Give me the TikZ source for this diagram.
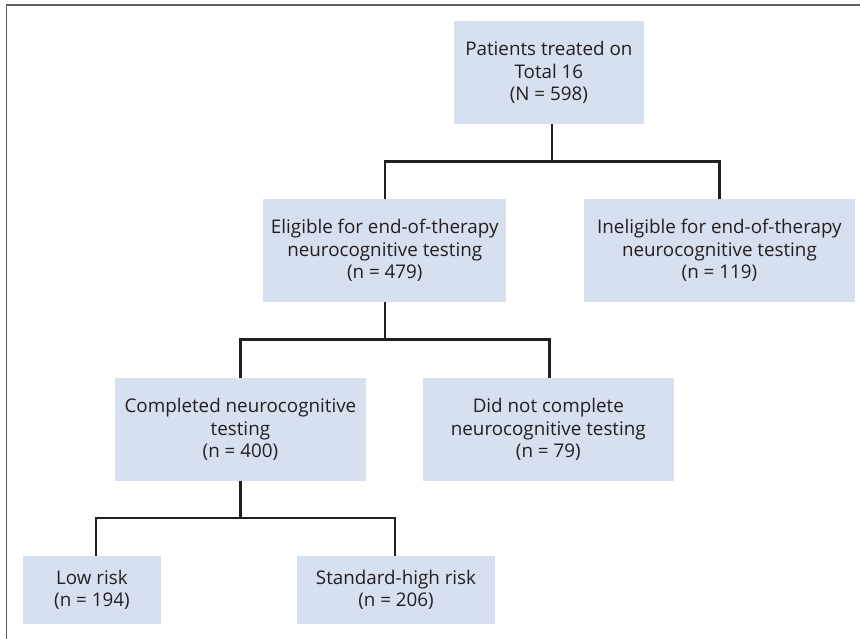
\documentclass[tikz,border=0pt]{standalone}
\usepackage{fontspec}
\setmainfont{Open Sans}
\usetikzlibrary{positioning}
\definecolor{boxblue}{RGB}{214,224,238}
\definecolor{inkgray}{RGB}{35,31,32}
\definecolor{framegray}{RGB}{95,95,95}

\begin{document}
\begin{tikzpicture}[x=1pt, y=-1pt,
    stage/.style={fill=boxblue, align=center, inner sep=0pt, minimum height=102.7pt,
                  text=inkgray, font=\fontsize{18.8}{22.6}\selectfont},
    group/.style={stage, minimum height=68pt},
    link/.style={draw=inkgray, line width=2.3pt}]

    \useasboundingbox (0,0) rectangle (860,638);
    \draw[framegray, line width=1.3pt] (6.7,645) -- (6.7,5) -- (865,5);

    \node[stage, minimum width=189.7pt] (total) at (548.9,72.4)
        {Patients treated on\\Total 16\\(N = 598)};

    \node[stage, minimum width=243pt] (eligible) at (384.75,250.35)
        {Eligible for end-of-therapy\\neurocognitive testing\\(n = 479)};
    \node[stage, minimum width=271pt] (ineligible) at (719.4,250.35)
        {Ineligible for end-of-therapy\\neurocognitive testing\\(n = 119)};

    \node[stage, minimum width=250.7pt] (completed) at (240.4,429.35)
        {Completed neurocognitive\\testing\\(n = 400)};
    \node[stage, minimum width=250.6pt] (incomplete) at (548.3,429.35)
        {Did not complete\\neurocognitive testing\\(n = 79)};

    \node[group, minimum width=137.7pt] (lowrisk) at (91.9,590)
        {Low risk\\(n = 194)};
    \node[group, minimum width=198pt] (highrisk) at (396,590)
        {Standard-high risk\\(n = 206)};

    % forks
    \draw[link] ([xshift=3.4pt]total.south) -- ++(0,38);
    \draw[link] (eligible.north) -- ++(0,-37.3) -| (ineligible.north);

    \draw[link] (eligible.south) -- ++(0,38);
    \draw[link] (completed.north) -- ++(0,-38.3) -| ([xshift=1.3pt]incomplete.north);

    \draw[link] (completed.south) -- ++(0,37.3);
    \draw[link] ([xshift=4.1pt]lowrisk.north) -- ++(0,-38) -| ([xshift=-1pt]highrisk.north);

\end{tikzpicture}
\end{document}
